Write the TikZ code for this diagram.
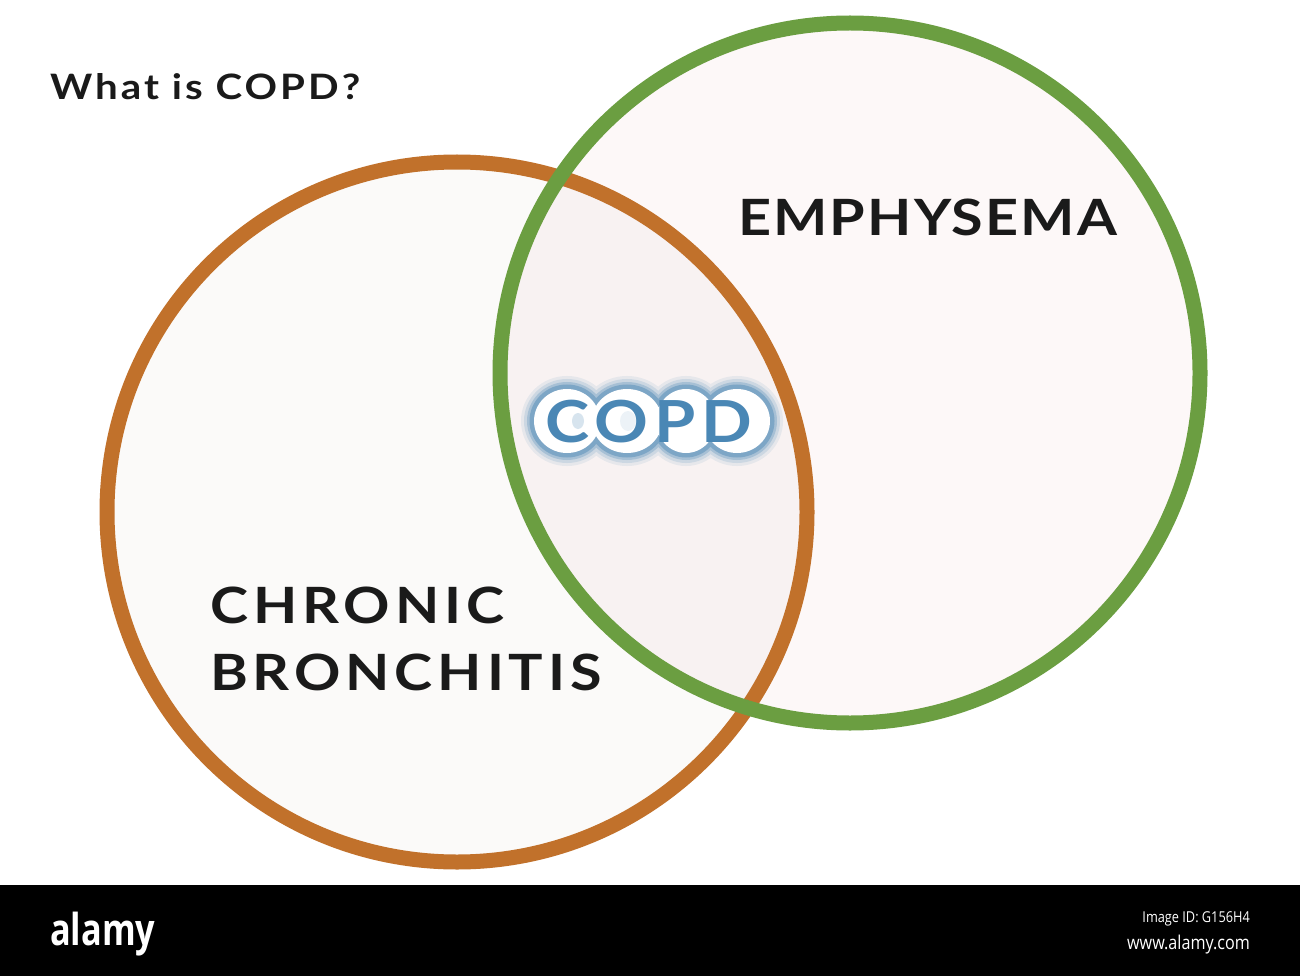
\documentclass[tikz,border=0pt]{standalone}
\usepackage{fontspec}
\setmainfont{Lato}
\newfontfamily\titlefont[LetterSpace=7.5]{Lato}
\newfontfamily\emphfont[LetterSpace=3.7]{Lato}
\newfontfamily\chronfont[LetterSpace=8.5]{Lato}
\newfontfamily\copdfont[LetterSpace=9]{Lato}
\newfontfamily\barfont{Open Sans}
\definecolor{orangering}{HTML}{C1712B}
\definecolor{greenring}{HTML}{6B9E41}
\definecolor{leftfill}{HTML}{FBFAF9}
\definecolor{rightfill}{HTML}{FDF8F8}
\definecolor{midfill}{HTML}{F8F2F2}
\definecolor{copdblue}{HTML}{4A87B5}
\definecolor{textdark}{HTML}{1A1A1A}
\newcommand{\wide}[1]{\scalebox{1.15}[1]{#1}}
\begin{document}
\begin{tikzpicture}[x=1pt,y=-1pt,
  ring/.style={line width=15pt},
  label/.style={inner sep=0pt,anchor=base west,text=textdark}]
\useasboundingbox (0,0) rectangle (1300,976);
\fill[white] (0,0) rectangle (1300,976);
% circles
\coordinate (cb) at (457,512);
\coordinate (em) at (850,373);
\fill[leftfill] (cb) circle[radius=350];
\fill[rightfill] (em) circle[radius=350];
\begin{scope}
  \clip (cb) circle[radius=350];
  \fill[midfill] (em) circle[radius=350];
\end{scope}
\draw[ring,orangering] (cb) circle[radius=350];
\draw[ring,greenring] (em) circle[radius=350];
% labels
\node[label,font=\titlefont\bfseries\fontsize{35}{35}\selectfont] (title) at (50,100) {\wide{What is COPD?}};
\node[label,font=\emphfont\bfseries\fontsize{50}{50}\selectfont] (emph) at (738,236) {\wide{EMPHYSEMA}};
\node[label,font=\chronfont\bfseries\fontsize{50}{50}\selectfont] (chron) at (210,623) {\wide{CHRONIC}};
\node[label,font=\chronfont\bfseries\fontsize{50}{50}\selectfont] (bron) at (210,690) {\wide{BRONCHITIS}};
% COPD glow (blurred outline drawn as shapes)
\def\glowshape{(567,421) ellipse[x radius=33,y radius=32] (627,421) ellipse[x radius=35,y radius=32] (686,421) ellipse[x radius=30,y radius=32] (737,421) ellipse[x radius=33,y radius=32]}
\foreach \w/\o in {26/0.10,20/0.16,14/0.28,9/0.45}{
  \draw[copdblue,line width=\w pt,opacity=\o] \glowshape;
}
\fill[white] \glowshape;
\fill[copdblue,opacity=0.22] (578,421) ellipse[x radius=6,y radius=8];
\fill[copdblue,opacity=0.10] (628,421) ellipse[x radius=8,y radius=10];
\node[inner sep=0pt,anchor=base west,text=copdblue,font=\copdfont\bfseries\fontsize{58}{58}\selectfont] (copd) at (545,442) {\wide{COPD}};
% bottom bar
\fill[black] (0,885) rectangle (1300,976);
\node[inner sep=0pt,anchor=base west,text=white,font=\barfont\bfseries\fontsize{44}{44}\selectfont] (logo) at (50,945) {\scalebox{0.78}[1]{alamy}};
\node[inner sep=0pt,anchor=base east,text=white,font=\barfont\fontsize{15}{15}\selectfont] (imgid) at (1250,922) {\scalebox{0.85}[1]{Image ID: G156H4}};
\node[inner sep=0pt,anchor=base east,text=white,font=\barfont\fontsize{19}{19}\selectfont] (url) at (1250,949) {\scalebox{0.85}[1]{www.alamy.com}};
\end{tikzpicture}
\end{document}
